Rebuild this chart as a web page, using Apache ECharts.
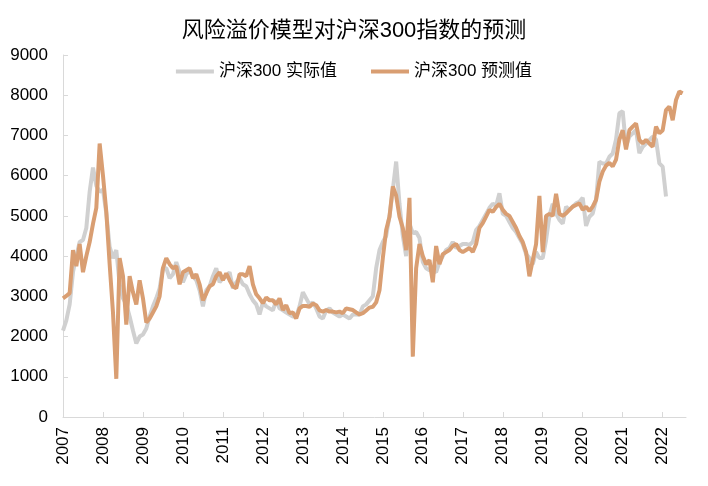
<!DOCTYPE html>
<html>
<head>
<meta charset="utf-8">
<script src="https://cdn.jsdelivr.net/npm/echarts@6/dist/echarts.min.js"></script>
<style>
  html, body { margin: 0; padding: 0; background: #fff; }
  #chart { width: 708px; height: 486px; }
</style>
</head>
<body>
<div id="chart"></div>
<script>
// monthly points, 2007-01 .. 2022-08
var startYear = 2007
var monthCount = 188

// 沪深300 实际值 (ends early 2022)
var actual = [
  2150, 2400, 2800, 3600, 4000, 4350, 4400, 4700, 5600, 6200, 5750, 5600,
  5650, 5060, 4230, 3950, 4150, 3300, 2950, 2800, 2500, 2150, 1830, 2000,
  2050, 2200, 2500, 2750, 2950, 3200, 3700, 3700, 3450, 3550, 3850, 3600,
  3350, 3550, 3650, 3500, 3400, 3150, 2750, 3150, 3250, 3500, 3700, 3350,
  3450, 3500, 3600, 3200, 3350, 3450, 3300, 3250, 3050, 2900, 2800, 2550,
  2850, 2750, 2700, 2650, 2900, 2700, 2650, 2600, 2550, 2500, 2500, 2750,
  3100, 2950, 2800, 2850, 2700, 2500, 2450, 2650, 2700, 2600, 2550, 2500,
  2550, 2500, 2450, 2550, 2550, 2540, 2750, 2800, 2900, 3000, 3700, 4150,
  4350, 4500, 5000, 5650, 6350, 5300, 4500, 4000, 4800, 4570, 4600, 4450,
  3850, 3700, 3650, 3650, 3600, 3850, 4000, 4150, 4200, 4350, 4200, 4250,
  4300, 4300, 4280, 4350, 4650, 4750, 4900, 5050, 5200, 5300, 5250, 5560,
  5050, 5000, 4850, 4700, 4600, 4450, 4300, 4050, 3950, 3800, 4100, 3950,
  3950, 4400, 5000, 5300, 5060, 4900, 4810, 5230, 5150, 5230, 5310, 5350,
  5450, 4750, 4980, 5060, 5400, 6350, 6300, 6300, 6470, 6550, 6900, 7550,
  7600, 6720, 6970, 7050, 7135, 6560, 6720, 6800, 6886, 6970, 6900, 6306,
  6225, 5480, null, null, null, null, null, null
]

// 沪深300 预测值
var predicted = [
  2950, 3010, 3080, 4150, 3750, 4300, 3600, 4000, 4350, 4800, 5200, 6800,
  6000, 5100, 3800, 2600, 950, 3950, 3500, 2300, 3500, 3100, 2800, 3400,
  2950, 2350, 2450, 2600, 2750, 3000, 3700, 3950, 3800, 3700, 3750, 3300,
  3600, 3650, 3700, 3450, 3550, 3300, 2900, 3070, 3250, 3300, 3500, 3600,
  3400, 3570, 3400, 3250, 3200, 3550, 3550, 3500, 3750, 3300, 3050, 2950,
  2830, 2970, 2900, 2900, 2800, 2950, 2660, 2780, 2580, 2600, 2450, 2700,
  2760, 2760, 2740, 2820, 2780, 2650, 2620, 2660, 2620, 2620, 2600, 2620,
  2580, 2700, 2680, 2660, 2600, 2550, 2580, 2650, 2720, 2740, 2850, 3150,
  3950, 4650, 4980, 5730, 5500, 4980, 4700, 4150, 5450, 1500, 3700, 4300,
  4000, 3800, 3900, 3350, 4250, 3800, 4050, 4100, 4150, 4250, 4300, 4150,
  4100, 4150, 4200, 4100, 4300, 4700, 4820, 4980, 5150, 5100, 5220, 5300,
  5150, 5050, 5000, 4850, 4700, 4500, 4350, 4100, 3500, 3900, 4300, 5500,
  4100, 5000, 5050, 5000, 5550, 5050, 5000, 5060, 5150, 5230, 5270, 5310,
  5150, 5230, 5120, 5230, 5400, 5850, 6100, 6250, 6320, 6230, 6400, 6900,
  7130, 6650, 7130, 7220, 7300, 6890, 6800, 6890, 6800, 6720, 7220, 7050,
  7130, 7630, 7720, 7380, 7880, 8090, 8050, null
]

var yTicks = { min: 0, max: 9000, step: 1000 }

var months = []
for (var i = 0; i < monthCount; i++) {
  var y = startYear + Math.floor(i / 12)
  var mo = (i % 12) + 1
  months.push(y + '-' + (mo < 10 ? '0' + mo : mo))
}

var FONT = "'Liberation Sans', 'Noto Sans CJK SC', sans-serif"
var grayColor = '#d0d0d0'
var orangeColor = '#d99e72'

var chart = echarts.init(document.getElementById('chart'), null, { renderer: 'canvas' })
chart.setOption({
  animation: false,
  backgroundColor: '#fff',
  title: {
    text: '风险溢价模型对沪深300指数的预测',
    left: 'center',
    top: 15,
    textStyle: { fontFamily: FONT, fontSize: 22, fontWeight: 'normal', color: '#000' }
  },
  legend: {
    top: 58,
    left: 'center',
    icon: 'rect',
    itemWidth: 38,
    itemHeight: 4,
    itemGap: 34,
    textStyle: { fontFamily: FONT, fontSize: 17, color: '#000' },
    data: ['沪深300 实际值', '沪深300 预测值']
  },
  grid: { left: 63, right: 22, top: 55, bottom: 69, containLabel: false },
  xAxis: {
    type: 'category',
    data: months,
    boundaryGap: false,
    axisLine: { lineStyle: { color: '#d9d9d9', width: 1 } },
    axisTick: {
      inside: true,
      length: 5,
      lineStyle: { color: '#d9d9d9' },
      interval: function (idx) { return idx % 12 === 0 }
    },
    axisLabel: {
      rotate: 90,
      margin: 10,
      color: '#000',
      fontFamily: FONT,
      fontSize: 17,
      interval: function (idx) { return idx % 12 === 0 },
      formatter: function (v) { return v.slice(0, 4) }
    },
    splitLine: { show: false }
  },
  yAxis: {
    type: 'value',
    min: yTicks.min,
    max: yTicks.max,
    interval: yTicks.step,
    axisLine: { show: true, lineStyle: { color: '#d9d9d9', width: 1 } },
    axisTick: { show: true, inside: true, length: 5, lineStyle: { color: '#d9d9d9' } },
    axisLabel: {
      color: '#000', fontFamily: FONT, fontSize: 17, margin: 15,
      formatter: function (v) { return String(v) }
    },
    splitLine: { show: false }
  },
  series: [
    {
      name: '沪深300 实际值',
      type: 'line',
      data: actual,
      showSymbol: false,
      symbol: 'none',
      connectNulls: false,
      itemStyle: { color: grayColor },
      lineStyle: { color: grayColor, width: 4 },
      z: 2
    },
    {
      name: '沪深300 预测值',
      type: 'line',
      data: predicted,
      showSymbol: false,
      symbol: 'none',
      connectNulls: false,
      itemStyle: { color: orangeColor },
      lineStyle: { color: orangeColor, width: 4 },
      z: 3
    }
  ]
})
</script>
</body>
</html>
